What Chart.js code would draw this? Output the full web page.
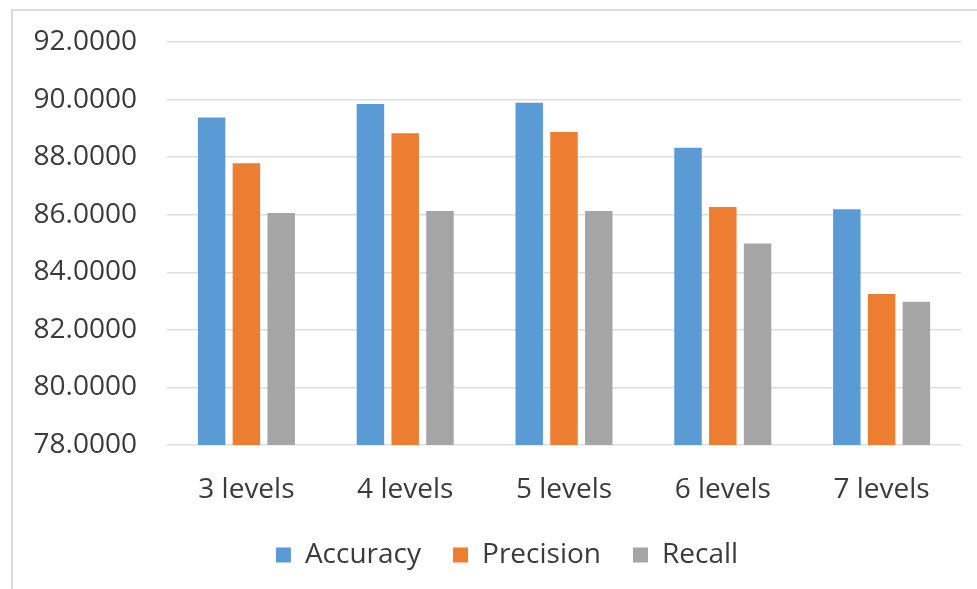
<!DOCTYPE html>
<html>
<head>
<meta charset="utf-8">
<script src="https://cdn.jsdelivr.net/npm/chart.js@4/dist/chart.umd.min.js"></script>
<style>
  html, body { margin: 0; padding: 0; background: #ffffff; overflow: hidden; }
  #wrap { position: relative; width: 977px; height: 589px; }
  #frame {
    position: absolute; left: 11px; top: 9px; right: -2px; bottom: -2px;
    border-top: 2px solid #dcdcdc; border-left: 2px solid #dcdcdc;
    pointer-events: none;
  }
  canvas { position: absolute; left: 0; top: 0; }
</style>
</head>
<body>
<div id="wrap">
  <canvas id="chart" width="977" height="589"></canvas>
  <div id="frame"></div>
</div>
<script>
// Categories and series values
const levels = ['3 levels', '4 levels', '5 levels', '6 levels', '7 levels'];
const accuracy  = [89.38, 89.85, 89.89, 88.33, 86.19];
const precision = [87.79, 88.83, 88.87, 86.27, 83.25];
const recall    = [86.06, 86.13, 86.13, 85.00, 82.98];

// Value axis range and step
const yMin = 78;
const yMax = 92;
const yStep = 2;

const textColor = '#3b3b3b';
const gridColor = '#dedede';
const fontFamily = '"Open Sans", "Noto Sans", sans-serif';

// Moves the centred legend a little to the right
const legendShift = {
  id: 'legendShift',
  afterLayout(chart) {
    const lg = chart.legend;
    if (lg) { lg.left += 21; lg.right += 21; }
  }
};

new Chart(document.getElementById('chart'), {
  type: 'bar',
  data: {
    labels: levels,
    datasets: [
      { label: 'Accuracy',  data: accuracy,  backgroundColor: '#5B9BD5' },
      { label: 'Precision', data: precision, backgroundColor: '#ED7D31' },
      { label: 'Recall',    data: recall,    backgroundColor: '#A5A5A5' }
    ]
  },
  options: {
    responsive: false,
    animation: false,
    events: [],
    categoryPercentage: 0.657,
    barPercentage: 0.79,
    layout: { padding: { left: 11, right: 16, top: 42, bottom: 10 } },
    scales: {
      x: {
        grid: { display: false, drawTicks: false },
        border: { display: false },
        ticks: {
          color: textColor,
          padding: 28,
          font: { family: fontFamily, size: 28 },
          maxRotation: 0
        },
        afterFit(scale) { scale.height = 64; }
      },
      y: {
        min: yMin,
        max: yMax,
        grid: { color: gridColor, lineWidth: 1.5, drawTicks: false },
        border: { display: false },
        ticks: {
          stepSize: yStep,
          color: textColor,
          padding: 30,
          font: { family: fontFamily, size: 28 },
          callback: v => Number(v).toFixed(4)
        },
        afterFit(scale) {
          scale.width = 156;
          scale.paddingTop = 0;
          scale.paddingBottom = 0;
        }
      }
    },
    plugins: {
      legend: {
        position: 'bottom',
        labels: {
          boxWidth: 15,
          boxHeight: 15,
          padding: 32,
          color: textColor,
          font: { family: fontFamily, size: 28 }
        }
      },
      tooltip: { enabled: false }
    }
  },
  plugins: [legendShift]
});
</script>
</body>
</html>
